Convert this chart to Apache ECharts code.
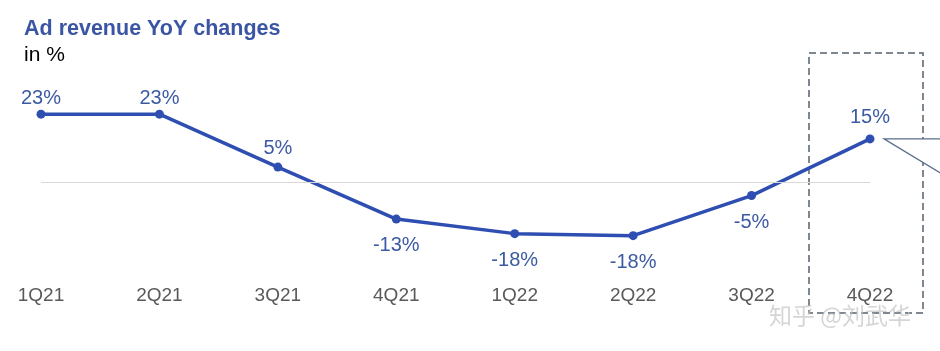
<!DOCTYPE html>
<html>
<head>
<meta charset="utf-8">
<script src="https://cdn.jsdelivr.net/npm/echarts@6/dist/echarts.min.js"></script>
<style>html,body{margin:0;padding:0;background:#fff;}#c{width:940px;height:351px;}</style>
</head>
<body>
<div id="c"></div>
<script>
const categories = ['1Q21','2Q21','3Q21','4Q21','1Q22','2Q22','3Q22','4Q22'];
const yoyValues = [23.4, 23.4, 5.2, -12.7, -17.7, -18.4, -4.6, 14.9];
const titleText = 'Ad revenue YoY changes';
const unitText = 'in %';
const watermarkText = '知乎 @刘武华';

const FONT = '"Liberation Sans", Arial, sans-serif';
const labelGap = [1, 1, 4, 12, 12, 12, 12, 7];
const chart = echarts.init(document.getElementById('c'));
chart.setOption({
  backgroundColor: '#fff',
  animation: false,
  title: {
    text: titleText, left: 19, top: 13,
    textStyle: { color: '#3a55a4', fontSize: 21.5, fontWeight: 'bold', fontFamily: FONT },
    subtext: unitText,
    subtextStyle: { color: '#000', fontSize: 21, fontFamily: FONT },
    itemGap: 5
  },
  grid: { left: 41, right: 70, top: 95, bottom: 70 },
  xAxis: {
    type: 'category', data: categories, boundaryGap: false,
    axisLine: { show: false }, axisTick: { show: false },
    axisLabel: { color: '#595959', fontSize: 19, fontFamily: FONT, margin: 5 }
  },
  yAxis: {
    type: 'value', min: -34, max: 30, show: false, splitLine: { show: false }
  },
  series: [{
    type: 'line', data: yoyValues.map((v, i) => ({
      value: v,
      label: { position: v >= 0 ? 'top' : 'bottom', distance: labelGap[i] }
    })),
    lineStyle: { color: '#2e4fb1', width: 3.5 },
    itemStyle: { color: '#2e4fb1' },
    symbol: 'circle', symbolSize: 9,
    label: {
      show: true, color: '#3c5aa3', fontSize: 20, fontFamily: FONT,
      formatter: p => Math.round(p.value) + '%'
    },
    markLine: {
      silent: true, symbol: 'none', label: { show: false },
      lineStyle: { color: '#d9d9d9', width: 1, type: 'solid' },
      data: [{ yAxis: 0 }]
    },
    z: 3
  }]
});

const last = chart.convertToPixel({ seriesIndex: 0 }, [categories.length - 1, yoyValues[yoyValues.length - 1]]);
chart.setOption({
  graphic: [
    {
      type: 'rect', silent: true, z: 1,
      shape: { x: last[0] - 61, y: 53, width: 114, height: 260 },
      style: { fill: 'none', stroke: '#56616e', lineWidth: 1.5, lineDash: [7, 4] }
    },
    {
      type: 'polyline', silent: true, z: 2,
      shape: { points: [[945, last[1]], [last[0] + 14, last[1]], [945, last[1] + 37]] },
      style: { fill: '#fff', stroke: '#5a6d8e', lineWidth: 1.3 }
    },
    {
      type: 'text', silent: true, z: 10, left: 769, top: 304,
      style: { text: watermarkText, fill: 'rgba(195,195,195,0.7)', font: '23px "Noto Sans CJK SC", sans-serif' }
    }
  ]
});
</script>
</body>
</html>
